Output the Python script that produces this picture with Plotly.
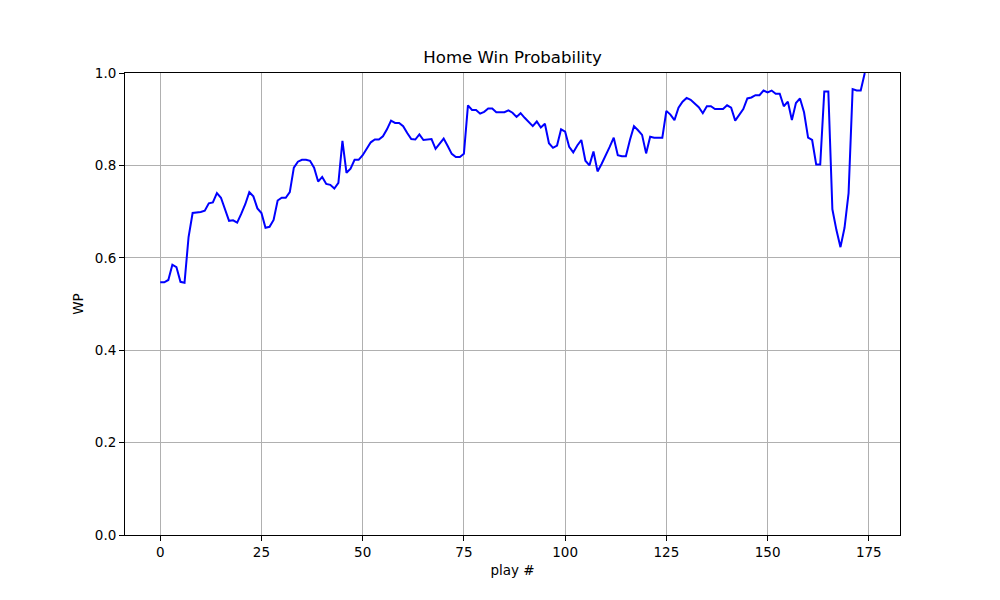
import plotly.graph_objects as go

# win probability per play
wp = [
    0.547, 0.547, 0.552, 0.585, 0.580, 0.548, 0.546, 0.645, 0.697, 0.698,
    0.699, 0.702, 0.718, 0.720, 0.740, 0.730, 0.705, 0.680, 0.681, 0.676,
    0.695, 0.716, 0.742, 0.733, 0.707, 0.697, 0.665, 0.667, 0.682, 0.724,
    0.730, 0.730, 0.742, 0.795, 0.808, 0.812, 0.812, 0.810, 0.795, 0.765,
    0.775, 0.760, 0.758, 0.750, 0.762, 0.853, 0.784, 0.793, 0.812, 0.812,
    0.822, 0.836, 0.850, 0.856, 0.856, 0.863, 0.878, 0.897, 0.892, 0.892,
    0.885, 0.870, 0.857, 0.856, 0.867, 0.855, 0.856, 0.857, 0.836, 0.846,
    0.858, 0.842, 0.825, 0.818, 0.818, 0.825, 0.930, 0.920, 0.920, 0.912,
    0.916, 0.923, 0.923, 0.915, 0.915, 0.915, 0.919, 0.914, 0.905, 0.913,
    0.903, 0.895, 0.885, 0.895, 0.882, 0.890, 0.848, 0.838, 0.843, 0.878,
    0.873, 0.840, 0.828, 0.843, 0.855, 0.810, 0.800, 0.830, 0.787, 0.803,
    0.820, 0.840, 0.860, 0.822, 0.820, 0.820, 0.855, 0.885, 0.876, 0.866,
    0.826, 0.862, 0.860, 0.860, 0.860, 0.918, 0.910, 0.898, 0.925, 0.938,
    0.946, 0.942, 0.935, 0.926, 0.913, 0.928, 0.928, 0.922, 0.922, 0.922,
    0.930, 0.925, 0.897, 0.910, 0.922, 0.945, 0.947, 0.952, 0.952, 0.962,
    0.958, 0.962, 0.955, 0.955, 0.928, 0.938, 0.898, 0.935, 0.945, 0.915,
    0.860, 0.855, 0.802, 0.802, 0.960, 0.960, 0.705, 0.660, 0.623, 0.665,
    0.740, 0.965, 0.962, 0.962, 1.000,
]
plays = list(range(len(wp)))

x_ticks = [0, 25, 50, 75, 100, 125, 150, 175]
y_ticks = [0.0, 0.2, 0.4, 0.6, 0.8, 1.0]

fig = go.Figure(
    data=[
        go.Scatter(
            x=plays,
            y=wp,
            mode="lines",
            line=dict(color="#0000ff", width=2),
            hoverinfo="x+y",
        )
    ]
)

axis_style = dict(
    showgrid=True,
    gridcolor="#b0b0b0",
    gridwidth=1,
    showline=True,
    linecolor="black",
    linewidth=1,
    mirror=True,
    ticks="outside",
    ticklen=5,
    tickcolor="black",
    zeroline=False,
    tickfont=dict(size=13.5, color="black"),
)

pad = (plays[-1] - plays[0]) * 0.05
fig.update_xaxes(
    range=[plays[0] - pad, plays[-1] + pad],
    tickvals=x_ticks,
    title=dict(text="play #", font=dict(size=13.5), standoff=6),
    **axis_style,
)
fig.update_yaxes(
    range=[0, 1],
    tickvals=y_ticks,
    tickformat=".1f",
    title=dict(text="WP", font=dict(size=13.5), standoff=8),
    **axis_style,
)

# page body adds ~8px offset, so margins are shifted to keep the axes box in place
fig.update_layout(
    width=1000,
    height=600,
    margin=dict(l=117, r=108, t=65, b=73),
    paper_bgcolor="white",
    plot_bgcolor="white",
    font=dict(family="DejaVu Sans", color="black"),
    title=dict(
        text="Home Win Probability",
        x=0.5045,
        xanchor="center",
        y=0.909,
        yanchor="bottom",
        font=dict(size=16.6),
    ),
    showlegend=False,
)

fig.write_html("out.html")
